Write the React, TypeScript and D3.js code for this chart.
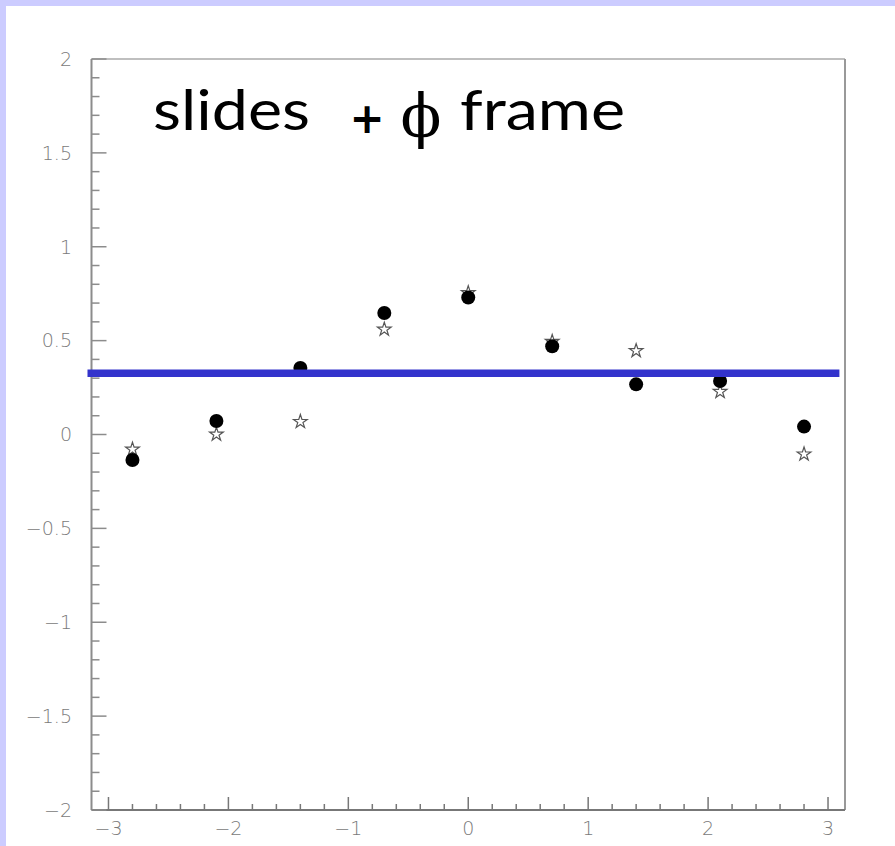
import React from "react";
import * as d3 from "d3";

const xPositions = [-2.8, -2.1, -1.4, -0.7, 0, 0.7, 1.4, 2.1, 2.8];
const circleValues = [-0.136, 0.072, 0.354, 0.647, 0.73, 0.47, 0.267, 0.285, 0.042];
const starValues = [-0.079, 0.001, 0.068, 0.56, 0.754, 0.495, 0.446, 0.228, -0.105];
const referenceLevel = 0.326;
const referenceSpan = [-3.175, 3.095];
const xTicks = [-3, -2, -1, 0, 1, 2, 3];
const yTicks = [-2, -1.5, -1, -0.5, 0, 0.5, 1, 1.5, 2];
const titleWords = ["slides", "+", "\u03D5", "frame"];

const W = 895;
const H = 846;

export default function App() {
  const x = d3.scaleLinear().domain([-Math.PI, Math.PI]).range([91.5, 845]);
  const y = d3.scaleLinear().domain([-2, 2]).range([810, 59]);

  const xMinor = d3.range(-3, 3.0001, 0.2).map((v) => Math.round(v * 10) / 10);
  const yMinor = d3.range(-2, 2.0001, 0.1).map((v) => Math.round(v * 10) / 10);

  const starPath = d3.symbol().type(d3.symbolStar).size(58)() as string;
  const fmt = (v: number) => (v < 0 ? "\u2212" + String(Math.abs(v)) : String(v));

  const axisColor = "#8c8c8c";
  const labelColor = "#7a7a7a";
  const labelFont = "'DejaVu Sans', sans-serif";
  const [x0, x1] = x.range();
  const [yb, yt] = y.range();

  return (
    <svg
      width={W}
      height={H}
      style={{ position: "absolute", left: 0, top: 0, display: "block" }}
    >
      <rect x={0} y={0} width={W} height={H} fill="#ccccff" />
      <rect x={6} y={6} width={W - 6} height={H - 6} fill="#ffffff" />

      {/* frame */}
      <line x1={x0} x2={x1} y1={yt} y2={yt} stroke="#aaa" strokeWidth={1.5} />
      <line x1={x1} x2={x1} y1={yt} y2={yb} stroke="#999" strokeWidth={2} />
      <line x1={x0} x2={x0} y1={yt} y2={yb} stroke={axisColor} strokeWidth={2} />
      <line x1={x0} x2={x1} y1={yb} y2={yb} stroke="#777" strokeWidth={2} />

      {/* y ticks */}
      {yMinor.map((v) => {
        const major = Math.abs(v * 2 - Math.round(v * 2)) < 1e-6;
        return (
          <line
            key={"ym" + v}
            x1={x0}
            x2={x0 + (major ? 15 : 8)}
            y1={y(v)}
            y2={y(v)}
            stroke={axisColor}
            strokeWidth={1.5}
          />
        );
      })}
      {yTicks.map((v) => (
        <text
          key={"yl" + v}
          x={72}
          y={y(v)}
          dy="0.36em"
          textAnchor="end"
          fontFamily={labelFont}
          fontWeight={200}
          fontSize={19}
          fill={labelColor}
        >
          {fmt(v)}
        </text>
      ))}

      {/* x ticks */}
      {xMinor.map((v) => {
        const major = Math.abs(v - Math.round(v)) < 1e-6;
        return (
          <line
            key={"xm" + v}
            x1={x(v)}
            x2={x(v)}
            y1={yb}
            y2={yb - (major ? 13 : 6)}
            stroke="#777"
            strokeWidth={1.5}
          />
        );
      })}
      {xTicks.map((v) => (
        <text
          key={"xl" + v}
          x={x(v)}
          y={828}
          dy="0.36em"
          textAnchor="middle"
          fontFamily={labelFont}
          fontWeight={200}
          fontSize={19}
          fill={labelColor}
        >
          {fmt(v)}
        </text>
      ))}

      {/* title */}
      <text
        x={153}
        y={130}
        fontFamily="Lato, sans-serif"
        fontSize={57}
        fill="#000"
        textLength={157}
        lengthAdjust="spacingAndGlyphs"
      >
        {titleWords[0]}
      </text>
      <text
        x={367}
        y={133}
        textAnchor="middle"
        fontFamily="'DejaVu Sans', sans-serif"
        fontWeight="bold"
        fontSize={42}
        fill="#000"
      >
        {titleWords[1]}
      </text>
      <text
        x={421}
        y={137}
        textAnchor="middle"
        fontFamily="'DejaVu Serif', serif"
        fontSize={60}
        fill="#000"
      >
        {titleWords[2]}
      </text>
      <text
        x={460}
        y={130}
        fontFamily="Lato, sans-serif"
        fontSize={57}
        fill="#000"
        textLength={165}
        lengthAdjust="spacingAndGlyphs"
      >
        {titleWords[3]}
      </text>

      {/* stars */}
      {starValues.map((v, i) => (
        <path
          key={"s" + i}
          d={starPath}
          transform={`translate(${x(xPositions[i])},${y(v)})`}
          fill="#fff"
          stroke="#555"
          strokeWidth={1.2}
        />
      ))}

      {/* circles */}
      {circleValues.map((v, i) => (
        <circle key={"c" + i} cx={x(xPositions[i])} cy={y(v)} r={7} fill="#000" />
      ))}

      {/* reference line */}
      <line
        x1={x(referenceSpan[0])}
        x2={x(referenceSpan[1])}
        y1={y(referenceLevel)}
        y2={y(referenceLevel)}
        stroke="#3333cc"
        strokeWidth={7.5}
      />
    </svg>
  );
}
